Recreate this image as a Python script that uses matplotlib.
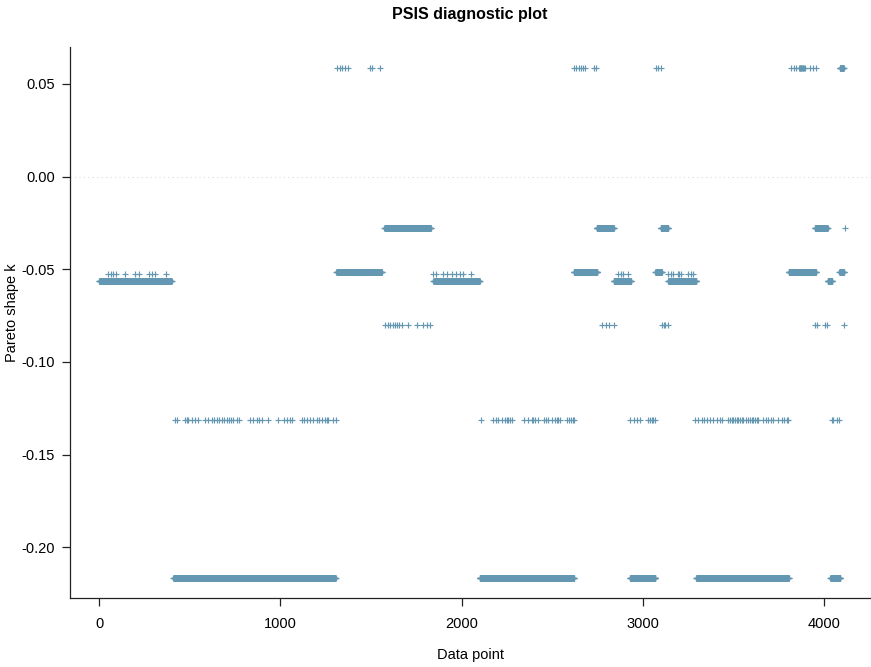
import numpy as np
import matplotlib
matplotlib.use("Agg")
import matplotlib.pyplot as plt

plt.rcParams['font.family'] = ['Liberation Sans', 'DejaVu Sans']

# Distinct Pareto k levels seen in the plot
K1 = 0.0586
K2 = -0.0280
K3 = -0.0516
K3b = -0.0527
K4 = -0.0565
K5 = -0.0801
K6 = -0.1312
K7 = -0.2167

# Contiguous runs of data points sharing one k value (start index, end index, k)
run_start = [1, 410, 1310, 1575, 1845, 2100, 2620, 2745, 2840, 2930, 3070, 3100,
             3140, 3295, 3805, 3950, 4020, 4035, 4085, 4088]
run_end = [400, 1305, 1560, 1830, 2100, 2620, 2750, 2840, 2935, 3070, 3105, 3140,
           3295, 3805, 3955, 4020, 4045, 4090, 4110, 4108]
run_k = [K4, K7, K3, K2, K4, K7, K3, K2, K4, K7, K3, K2,
         K4, K7, K3, K2, K4, K7, K3, K1]

# Isolated data points, per k level
pts_k1 = [1311, 1330, 1342, 1357, 1375, 1495, 1508, 1550, 2621, 2632, 2650, 2658,
          2669, 2681, 2730, 2740, 3075, 3085, 3100, 3816, 3835, 3846, 3864, 3866,
          3870, 3872, 3874, 3879, 3882, 3886, 3890, 3895, 3923, 3941, 3956]
pts_k2 = [4116]
pts_k3b = [51, 64, 79, 94, 143, 199, 222, 277, 293, 309, 370, 1845, 1859, 1896,
           1918, 1946, 1970, 1992, 2010, 2051, 2865, 2880, 2889, 2920, 3141, 3156,
           3165, 3193, 3202, 3209, 3251, 3264, 3279]
pts_k5 = [1578, 1593, 1606, 1624, 1633, 1642, 1657, 1670, 1707, 1753, 1789, 1808,
          1826, 2775, 2795, 2815, 2840, 3105, 3115, 3125, 3140, 3950, 3963, 4006,
          4015, 4112]
pts_k6 = [419, 432, 474, 483, 493, 511, 530, 544, 585, 603, 622, 634, 649, 664, 677,
          690, 704, 719, 726, 741, 759, 774, 833, 851, 870, 883, 897, 934, 989, 1022,
          1035, 1054, 1065, 1118, 1131, 1146, 1164, 1182, 1201, 1215, 1228, 1247,
          1256, 1265, 1293, 1308,
          2108, 2172, 2190, 2200, 2222, 2240, 2249, 2258, 2268, 2277, 2345, 2369,
          2387, 2396, 2406, 2420, 2455, 2466, 2479, 2497, 2516, 2525, 2534, 2543,
          2580, 2595, 2604, 2613, 2622,
          2930, 2952, 2970, 2985, 3031, 3040, 3049, 3058, 3068,
          3288, 3307, 3325, 3338, 3353, 3371, 3389, 3408, 3426, 3435, 3472, 3481,
          3491, 3500, 3509, 3518, 3527, 3537, 3546, 3555, 3570, 3582, 3592, 3601,
          3610, 3619, 3628, 3638, 3665, 3680, 3693, 3706, 3720, 3748, 3766, 3779,
          3794, 3803,
          4042, 4051, 4070, 4083]

x_ticks = [0, 1000, 2000, 3000, 4000]
y_ticks = [-0.20, -0.15, -0.10, -0.05, 0.00, 0.05]
y_tick_labels = ['-0.20', '-0.15', '-0.10', '-0.05', '0.00', '0.05']

xs, ks = [], []
for s, e, k in zip(run_start, run_end, run_k):
    idx = np.arange(s, e + 1)
    xs.append(idx)
    ks.append(np.full(idx.size, k))
for pts, k in [(pts_k1, K1), (pts_k2, K2), (pts_k3b, K3b), (pts_k5, K5), (pts_k6, K6)]:
    xs.append(np.array(pts))
    ks.append(np.full(len(pts), k))
x = np.concatenate(xs)
k = np.concatenate(ks)

W, H = 871, 667
fig = plt.figure(figsize=(W / 100, H / 100), dpi=100)
ax = fig.add_axes([70 / W, (H - 598) / H, (W - 70) / W, (598 - 47) / H])

ax.axhline(0, color='#d9d9d9', linestyle=(0, (1, 3)), linewidth=0.8, zorder=1)
ax.plot(x, k, linestyle='none', marker='+', markersize=4.8, markeredgewidth=0.85,
        color='#6497b1', zorder=2)

ax.set_xlim(-160, 4259)
ax.set_ylim(-0.2274, 0.0699)
ax.set_xticks(x_ticks)
ax.set_yticks(y_ticks)
ax.set_yticklabels(y_tick_labels)

for side in ['top', 'right']:
    ax.spines[side].set_visible(False)
for side in ['left', 'bottom']:
    ax.spines[side].set_linewidth(0.9)
    ax.spines[side].set_color('#222222')
ax.tick_params(direction='out', length=6, width=0.9, color='#222222',
               labelsize=10.5, pad=5)
ax.tick_params(axis='x', pad=8)

ax.set_xlabel('Data point', fontsize=10.5, labelpad=12)
fig.text(12 / W, 1 - 313 / H, 'Pareto shape k', rotation=90, ha='center',
         va='center', fontsize=10.5)
fig.text(470 / W, 1 - 15 / H, 'PSIS diagnostic plot', ha='center', va='center',
         fontsize=11.5, fontweight='bold')

fig.savefig('out.png', dpi=100)
